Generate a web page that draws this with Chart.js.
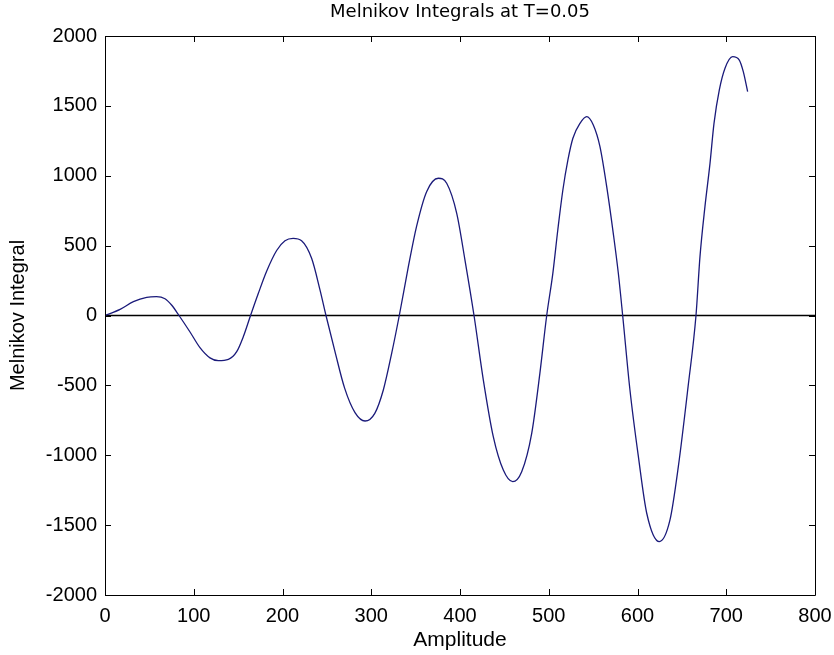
<!DOCTYPE html>
<html>
<head>
<meta charset="utf-8">
<title>Melnikov Integrals at T=0.05</title>
<script src="https://cdn.jsdelivr.net/npm/chart.js@4/dist/chart.umd.min.js"></script>
<style>
  html, body { margin: 0; padding: 0; background: #fff; }
  #wrap { width: 834px; height: 655px; }
</style>
</head>
<body>
<div id="wrap"><canvas id="melnikovChart" width="834" height="655"></canvas></div>
<script>
// 振幅（横軸）と Melnikov 積分値（縦軸）: 図から読み取った値
const amplitude = [
  0, 17, 32, 47, 58, 67.6, 75, 83.4, 95.8, 107, 118.3, 127.7, 139, 148.4, 155.9,
  164, 172.8, 182, 193.4, 202.8, 212, 221.5, 232.8, 242.3, 249, 259, 270, 281.7,
  293, 304, 313.6, 323, 331.6, 341.8, 351, 362.4, 375.6, 385, 396.3, 405.6, 415.8,
  426.3, 437.5, 448.8, 459.4, 469.5, 480.8, 490, 497.7, 504.6, 510.2, 515.9, 521.6,
  527.2, 535.2, 542.8, 550.2, 557.7, 565.3, 572.7, 578.4, 583.3, 591.5, 601, 610.4,
  624.6, 636.6, 646, 657, 665.9, 670.4, 676, 681.7, 686.2, 692.2, 698.6, 707.2,
  714.7, 719.2, 724.1,
];
const melnikov = [
  0, 44, 99, 130, 135, 120, 75, 0, -118, -230, -303, -323, -314, -259, -151,
  0, 159, 315, 465, 535, 552, 535, 409, 182, 0, -255, -520, -695,
  -755, -700, -533, -271, 0, 349, 636, 886, 982, 946, 731, 397, 0,
  -462, -867, -1106, -1189, -1118, -843, -414, 0, 302, 612, 898, 1113,
  1268, 1375, 1423, 1363, 1208, 922, 588, 302, 0, -533, -1010, -1415,
  -1618, -1463, -1082, -509, 0, 421, 779, 1089, 1375, 1614, 1769, 1852,
  1828, 1745, 1602,
];

// ゼロ基準線
const zeroLineX = [0, 800];
const zeroLineY = [0, 0];

// 目盛り
const xTicks = [0, 100, 200, 300, 400, 500, 600, 700, 800];
const yTicks = [-2000, -1500, -1000, -500, 0, 500, 1000, 1500, 2000];

Chart.defaults.font.family = "'Liberation Sans', Arial, sans-serif";
Chart.defaults.color = '#000';

// MATLAB 風の枠と内向きの目盛り線
const boxAxes = {
  id: 'boxAxes',
  afterDraw(chart) {
    const { ctx, chartArea: a, scales } = chart;
    const len = 6;
    ctx.save();
    ctx.strokeStyle = '#000';
    ctx.lineWidth = 1;
    ctx.beginPath();
    ctx.rect(Math.round(a.left) + 0.5, Math.round(a.top) + 0.5,
      Math.round(a.right - a.left), Math.round(a.bottom - a.top));
    xTicks.forEach((v) => {
      const px = Math.round(scales.x.getPixelForValue(v)) + 0.5;
      ctx.moveTo(px, a.bottom);
      ctx.lineTo(px, a.bottom - len);
      ctx.moveTo(px, a.top);
      ctx.lineTo(px, a.top + len);
    });
    yTicks.forEach((v) => {
      const py = Math.round(scales.y.getPixelForValue(v)) + 0.5;
      ctx.moveTo(a.left, py);
      ctx.lineTo(a.left + len, py);
      ctx.moveTo(a.right, py);
      ctx.lineTo(a.right - len, py);
    });
    ctx.stroke();
    ctx.restore();
  },
};

const melnikovConfig = {
  type: 'line',
  data: {
    datasets: [
      {
        label: 'Melnikov Integral',
        data: amplitude.map((a, i) => ({ x: a, y: melnikov[i] })),
        borderColor: '#1a1a7a',
        borderWidth: 1.3,
        pointRadius: 0,
        cubicInterpolationMode: 'monotone',
        fill: false,
      },
      {
        label: 'zero',
        data: zeroLineX.map((a, i) => ({ x: a, y: zeroLineY[i] })),
        borderColor: '#000',
        borderWidth: 1.5,
        pointRadius: 0,
        fill: false,
        clip: 0, // 枠からはみ出さない
      },
    ],
  },
  options: {
    responsive: false,
    animation: false,
    layout: { padding: { left: 0, right: 19, top: 0, bottom: 0 } },
    plugins: {
      legend: { display: false },
      tooltip: { enabled: false },
      title: {
        display: true,
        fullSize: false, // 描画領域の中央に揃える
        text: 'Melnikov Integrals at T=0.05',
        color: '#000',
        font: { family: "'DejaVu Sans', sans-serif", size: 18, weight: 'normal' },
        padding: { top: 2, bottom: 12.4 },
      },
    },
    scales: {
      x: {
        type: 'linear',
        min: 0,
        max: 800,
        grid: { display: false, drawTicks: false },
        border: { display: false },
        afterBuildTicks: (scale) => {
          scale.ticks = xTicks.map((v) => ({ value: v }));
        },
        afterFit: (scale) => {
          scale.height = 60;
          scale.paddingLeft = 0;
          scale.paddingRight = 0;
        },
        ticks: {
          padding: 9,
          maxRotation: 0,
          font: { size: 20 },
          callback: (v) => String(v),
        },
        title: {
          display: true,
          text: 'Amplitude',
          font: { size: 21 },
          padding: { top: 0, bottom: 2 },
        },
      },
      y: {
        min: -2000,
        max: 2000,
        grid: { display: false, drawTicks: false },
        border: { display: false },
        afterBuildTicks: (scale) => {
          scale.ticks = yTicks.map((v) => ({ value: v }));
        },
        afterFit: (scale) => {
          scale.width = 105;
          scale.paddingTop = 0;
          scale.paddingBottom = 0;
        },
        ticks: {
          padding: 8,
          font: { size: 20 },
          callback: (v) => String(v),
        },
        title: {
          display: true,
          text: 'Melnikov Integral',
          font: { size: 20 },
          padding: { top: 6, bottom: 0 },
        },
      },
    },
  },
  plugins: [boxAxes],
};

new Chart(document.getElementById('melnikovChart').getContext('2d'), melnikovConfig);
</script>
</body>
</html>
